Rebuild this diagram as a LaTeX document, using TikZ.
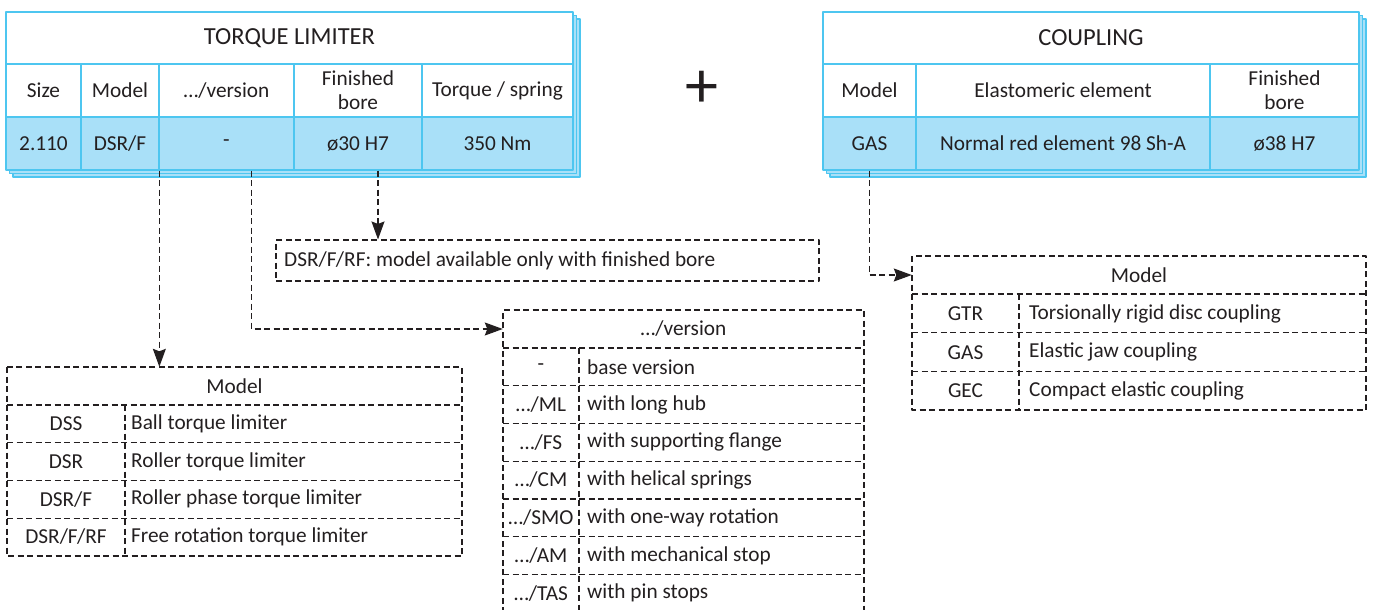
\documentclass[tikz,border=0pt]{standalone}
\usepackage{fontspec}
\setmainfont{Carlito}
\usetikzlibrary{arrows.meta}
\definecolor{tblue}{RGB}{77,198,240}
\definecolor{tfill}{RGB}{169,224,248}
\definecolor{ink}{RGB}{35,31,32}
\begin{document}
\begin{tikzpicture}[x=1pt, y=-1pt, font=\fontsize{21.3}{24}\selectfont, text=ink,
    line join=round,
    hcell/.style={draw=tblue, line width=1.3pt, inner sep=0pt, align=center, minimum height=53},
    dcell/.style={hcell, fill=tfill},
    title/.style={hcell, fill=white, minimum height=52, font=\fontsize{24.5}{28}\selectfont},
    layer/.style={draw=tblue, line width=1.3pt, fill=tfill},
    grid/.style={draw=ink, line width=1.1pt, dash pattern=on 6pt off 3.5pt},
    txt/.style={inner sep=0pt},
    link/.style={grid, -{Stealth[length=18pt, width=13pt, inset=2.5pt]}}]
  \useasboundingbox (0,0) rectangle (1374,610);
  % torque limiter
  \foreach \s in {7,3.5} \draw[layer] ({6+\s},{12+\s}) rectangle ({573+\s},{170+\s});
  \node[title, minimum width=567] (tlim) at (289.5,38) {TORQUE LIMITER};
  \foreach \nm/\xa/\xb/\hd/\vl in {tsize/6/81/Size/2.110, tmod/81/159/Model/{DSR/F},
      tver/159/294/{…/version}/-, tbore/294/422/{Finished\\bore}/{ø30 H7},
      ttrq/422/573/{Torque / spring}/{350 Nm}}{
    \node[hcell, fill=white, minimum width=\xb-\xa] (\nm-h) at ({(\xa+\xb)/2},90.5) {\hd};
    \node[dcell, minimum width=\xb-\xa] (\nm) at ({(\xa+\xb)/2},143.5) {\vl};
  }
  \node[txt] (plus) at (702,89) {\fontsize{66}{66}\selectfont +};
  % coupling
  \foreach \s in {7,3.5} \draw[layer] ({823+\s},{12+\s}) rectangle ({1359+\s},{170+\s});
  \node[title, minimum width=536] (cpl) at (1091,38) {COUPLING};
  \foreach \nm/\xa/\xb/\hd/\vl in {cmod/823/916/Model/GAS,
      cel/916/1210/Elastomeric element/{Normal red element 98 Sh-A},
      cbore/1210/1359/{Finished\\bore}/{ø38 H7}}{
    \node[hcell, fill=white, minimum width=\xb-\xa] (\nm-h) at ({(\xa+\xb)/2},90.5) {\hd};
    \node[dcell, minimum width=\xb-\xa] (\nm) at ({(\xa+\xb)/2},143.5) {\vl};
  }
  % note
  \node[grid, inner sep=0pt, minimum width=543, minimum height=41] (note) at (547.5,260.5) {};
  \node[txt, anchor=west] (notetxt) at (284,260.5) {DSR/F/RF: model available only with finished bore};
  % model table
  \draw[grid] (7,367) rectangle (462,556) (125,405) -- (125,556);
  \foreach \y in {405,442.75,480.5,518.25} \draw[grid] (7,\y) -- (462,\y);
  \node[txt, minimum width=455, minimum height=38] (mhd) at (234.5,386) {Model};
  \foreach \c/\d [count=\i] in {DSS/Ball torque limiter, DSR/Roller torque limiter,
      {DSR/F}/Roller phase torque limiter, {DSR/F/RF}/Free rotation torque limiter}{
    \node[txt] (mc\i) at (66,{386+37.75*\i}) {\c};
    \node[txt, anchor=west] (md\i) at (131,{386+37.75*\i}) {\d};
  }
  % version table
  \draw[grid] (503,613) -- (503,310) -- (864,310) -- (864,613) (579,348) -- (579,613);
  \foreach \k in {0,...,6} \draw[grid] (503,{348+37.75*\k}) -- (864,{348+37.75*\k});
  \node[txt, minimum width=361, minimum height=38] (vhd) at (683.5,329) {…/version};
  \foreach \c/\d [count=\i] in {-/base version, {…/ML}/with long hub, {…/FS}/with supporting flange,
      {…/CM}/with helical springs, {…/SMO}/with one-way rotation, {…/AM}/with mechanical stop,
      {…/TAS}/with pin stops}{
    \node[txt] (vc\i) at (541,{329+37.75*\i}) {\c};
    \node[txt, anchor=west] (vd\i) at (587,{329+37.75*\i}) {\d};
  }
  % coupling model table
  \draw[grid] (912,256) rectangle (1366,410) (1019,294) -- (1019,410);
  \foreach \y in {294,332.67,371.33} \draw[grid] (912,\y) -- (1366,\y);
  \node[txt, minimum width=454, minimum height=38] (cmhd) at (1139,275) {Model};
  \foreach \c/\d [count=\i] in {GTR/Torsionally rigid disc coupling, GAS/Elastic jaw coupling,
      GEC/Compact elastic coupling}{
    \node[txt] (cc\i) at (965.5,{275+38.67*\i}) {\c};
    \node[txt, anchor=west] (cd\i) at (1029,{275+38.67*\i}) {\d};
  }
  % links
  \draw[link] ([xshift=1pt]tver.south west) -- ([xshift=1pt]tver.south west |- mhd.north);
  \draw[link] ([xshift=25pt]tver.south) |- (vhd.west);
  \draw[link] ([xshift=20pt]tbore.south) -- ([xshift=20pt]tbore.south |- note.north);
  \draw[link] (cmod.south) |- (cmhd.west);
\end{tikzpicture}
\end{document}
